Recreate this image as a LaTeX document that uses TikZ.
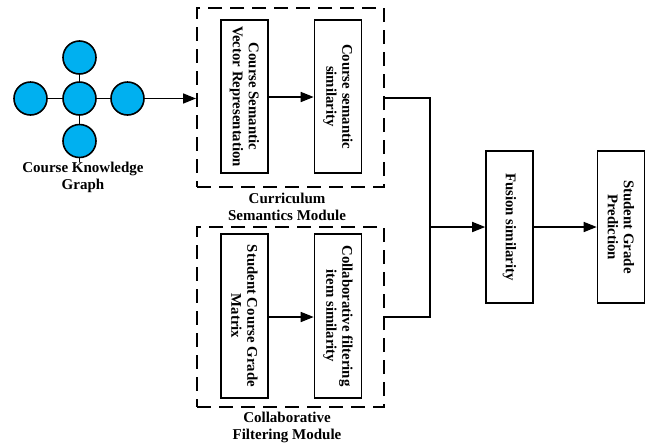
\documentclass[tikz,border=0pt]{standalone}
\usepackage{fontspec}
\setmainfont{Liberation Serif}
\usetikzlibrary{arrows.meta}
\begin{document}
\begin{tikzpicture}[x=1pt,y=-1pt,
  ball/.style={circle,draw=black,line width=1.6pt,minimum size=33pt,inner sep=0pt},
  proc/.style={draw=black,line width=1.6pt,minimum width=47pt,inner sep=0pt},
  module/.style={draw=black,line width=2pt,dash pattern=on 14pt off 8pt},
  lab/.style={font=\bfseries\fontsize{15}{17}\selectfont,align=center},
  rlab/.style={font=\bfseries\fontsize{14.8}{16}\selectfont,align=center,rotate=-90},
  conn/.style={line width=1.6pt},
  arr/.style={conn,-{Triangle[length=13pt,width=10pt]}}
]
\useasboundingbox (0,0) rectangle (651,445);
\definecolor{ballc}{RGB}{0,176,240}
\tikzset{ball/.append style={fill=ballc}}
% knowledge graph
\node[ball] (g0) at (79.5,98.5) {};
\node[ball] (gl) at (30.5,98.5) {};
\node[ball] (gr) at (127.5,98.5) {};
\node[ball] (gt) at (79.5,57.5) {};
\node[ball] (gb) at (79.5,141) {};
\coordinate (gtail) at (79.5,162);
\draw[conn] (gl) -- (g0) -- (gr);
\draw[conn] (gt) -- (g0) -- (gb);
\draw[conn] (gb) -- (gtail);
\node[lab] (kg) at (83,177) {Course Knowledge\\Graph};
% modules
\node[module,minimum width=187pt,minimum height=179pt,inner sep=0pt] (m1) at (290.5,97.5) {};
\node[lab] (m1l) at (287,207) {Curriculum\\Semantics Module};
\node[module,minimum width=187pt,minimum height=180pt,inner sep=0pt] (m2) at (290.5,317) {};
\node[lab] (m2l) at (287,427) {Collaborative\\Filtering Module};
% boxes
\node[proc,minimum height=153pt] (a) at (244.5,96.5) {};
\node[rlab] at (a.center) {Course Semantic\\Vector Representation};
\node[proc,minimum height=153pt] (b) at (338,96.5) {};
\node[rlab] at (b.center) {Course semantic\\similarity};
\node[proc,minimum height=164pt] (c) at (244.5,316) {};
\node[rlab] at (c.center) {Student Course Grade\\Matrix};
\node[proc,minimum height=164pt] (d) at (338,316) {};
\node[rlab] at (d.center) {Collaborative filtering\\item similarity};
\node[proc,minimum height=152pt] (f) at (509.5,227) {};
\node[rlab] at (f.center) {Fusion similarity};
\node[proc,minimum height=152pt] (s) at (621,227) {};
\node[rlab] at (s.center) {Student Grade\\Prediction};
% connectors
\draw[arr] (gr.east) -- (m1.west |- gr.east);
\draw[arr] (a.east |- 0,97) -- (b.west |- 0,97);
\draw[arr] (c.east |- 0,317) -- (d.west |- 0,317);
\coordinate (j1) at (430,98);
\coordinate (j2) at (430,317);
\coordinate (jm) at (430,227);
\draw[conn] (m1.east |- j1) -- (j1) -- (j2) -- (m2.east |- j2);
\draw[arr] (jm) -- (f.west |- jm);
\draw[arr] (f.east |- jm) -- (s.west |- jm);
\end{tikzpicture}
\end{document}
